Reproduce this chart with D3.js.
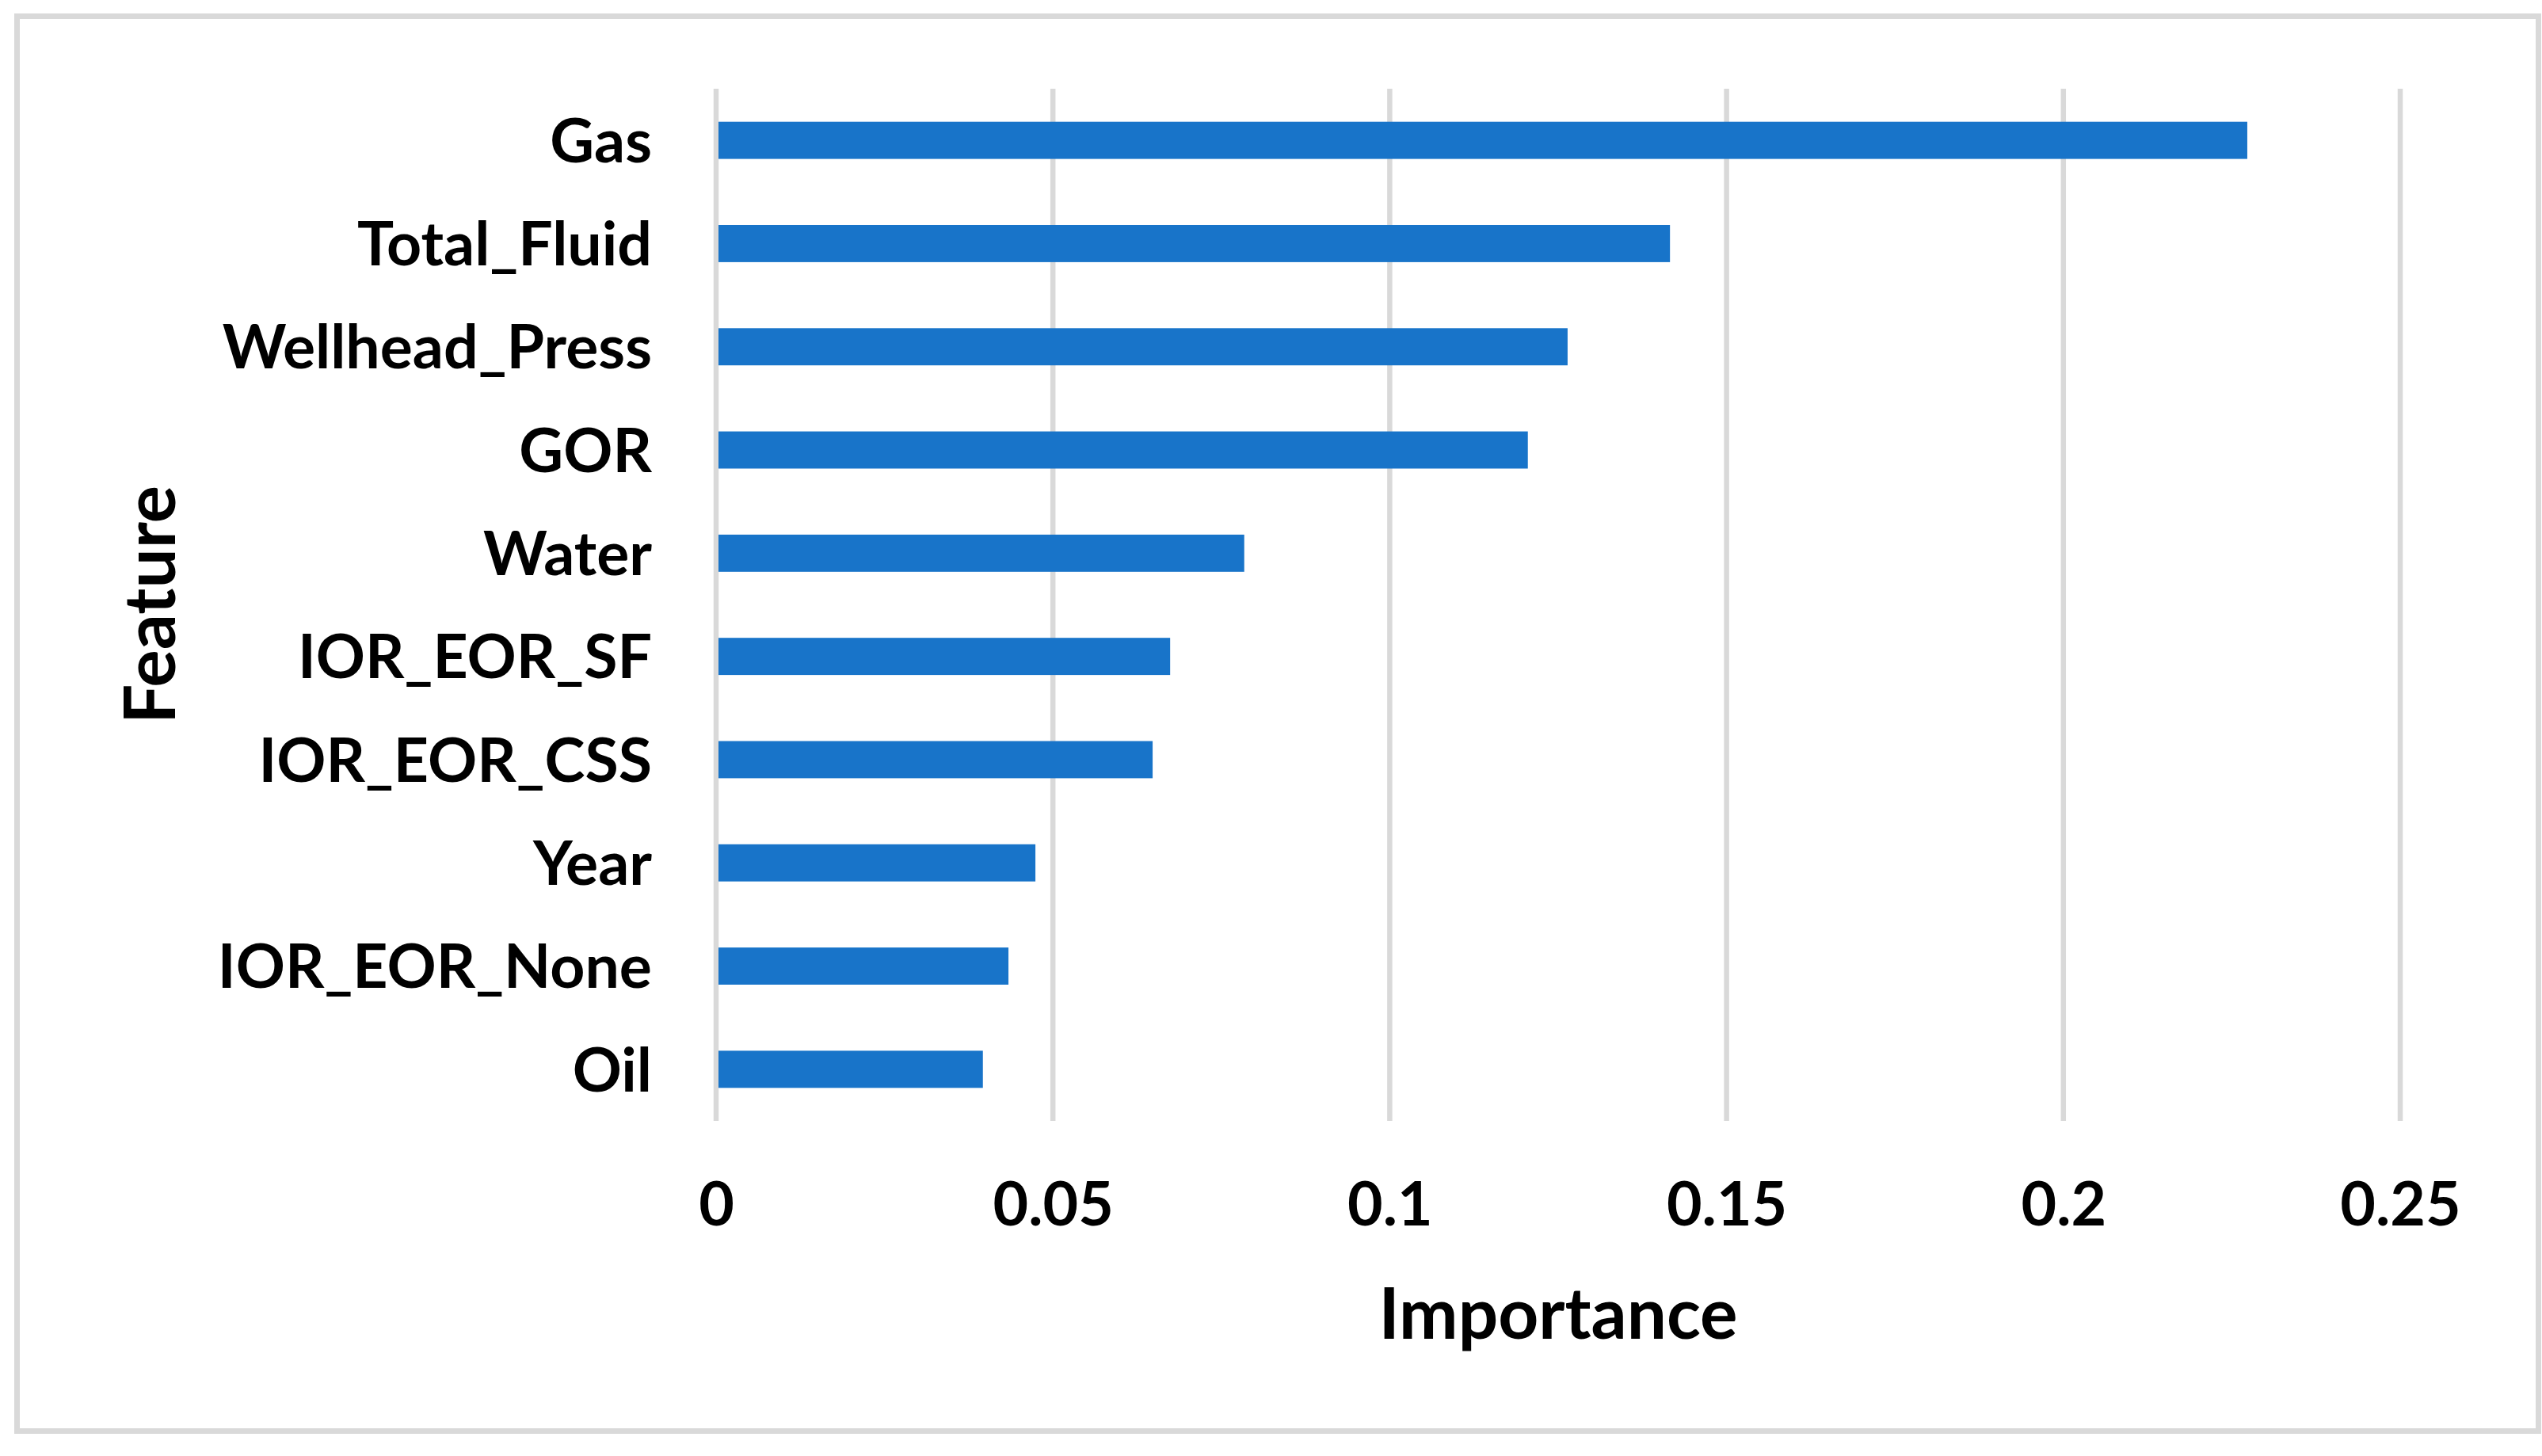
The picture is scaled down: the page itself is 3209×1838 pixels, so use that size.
<!DOCTYPE html>
<html>
<head>
<meta charset="utf-8">
<script src="https://cdn.jsdelivr.net/npm/d3@7"></script>
<style>
  body { margin: 0; background: #fff; }
  text { font-family: Lato, "Open Sans", sans-serif; font-weight: bold; fill: #000; }
</style>
</head>
<body>
<div class="chart"></div>
<script>
// data
const features = ["Gas", "Total_Fluid", "Wellhead_Press", "GOR", "Water",
                  "IOR_EOR_SF", "IOR_EOR_CSS", "Year", "IOR_EOR_None", "Oil"]
const importance = [0.2273, 0.1416, 0.1264, 0.1205, 0.0784,
                    0.0674, 0.0648, 0.0474, 0.0434, 0.0396]
const tickValues = [0, 0.05, 0.1, 0.15, 0.2, 0.25]
const tickLabels = ["0", "0.05", "0.1", "0.15", "0.2", "0.25"]

const width = 3209
const height = 1838
const plot = { left: 904, right: 3030, top: 112, bottom: 1415 }

const data = features.map((f, i) => ({ name: f, value: importance[i] }))

let svg = d3.select(".chart")
    .append("svg")
    .attr("width", width)
    .attr("height", height)

// outer frame
svg.append("rect")
    .attr("x", 21.5)
    .attr("y", 20.5)
    .attr("width", 3183)
    .attr("height", 1786)
    .attr("fill", "none")
    .attr("stroke", "#d9d9d9")
    .attr("stroke-width", 7)

const x = d3.scaleLinear()
    .domain([0, 0.25])
    .range([plot.left, plot.right])

const y = d3.scaleBand()
    .domain(features)
    .range([plot.top, plot.bottom])
    .paddingInner(0.64)
    .paddingOuter(0.32)

// vertical grid lines
svg.append("g")
    .selectAll("line")
    .data(tickValues)
    .enter()
    .append("line")
    .attr("x1", d => x(d))
    .attr("x2", d => x(d))
    .attr("y1", plot.top)
    .attr("y2", plot.bottom)
    .attr("stroke", "#d9d9d9")
    .attr("stroke-width", 6.5)

// bars
svg.append("g")
    .selectAll("rect")
    .data(data)
    .enter()
    .append("rect")
    .attr("x", x(0) + 3)
    .attr("y", d => y(d.name))
    .attr("width", d => x(d.value) - x(0) - 3)
    .attr("height", y.bandwidth())
    .attr("fill", "#1874c9")

// x axis labels
let xAxis = svg.append("g")
    .attr("transform", `translate(0,${plot.bottom})`)
    .call(d3.axisBottom(x)
        .tickValues(tickValues)
        .tickFormat((d, i) => tickLabels[i])
        .tickSize(0))
xAxis.select(".domain").remove()
xAxis.selectAll("text")
    .attr("y", 132)
    .attr("dy", 0)
    .style("font-size", "77px")
    .style("font-family", "Lato, 'Open Sans', sans-serif")
    .style("font-weight", "bold")
    .attr("fill", "#000")

// y axis labels
let yAxis = svg.append("g")
    .attr("transform", `translate(${plot.left},0)`)
    .call(d3.axisLeft(y).tickSize(0).tickPadding(81))
yAxis.select(".domain").remove()
yAxis.selectAll("text")
    .attr("dy", "0.36em")
    .style("font-size", "77px")
    .style("font-family", "Lato, 'Open Sans', sans-serif")
    .style("font-weight", "bold")
    .attr("fill", "#000")

// axis titles
svg.append("text")
    .attr("x", (plot.left + plot.right) / 2)
    .attr("y", 1690)
    .attr("text-anchor", "middle")
    .style("font-size", "89px")
    .text("Importance")

svg.append("text")
    .attr("transform", `translate(221,${(plot.top + plot.bottom) / 2}) rotate(-90)`)
    .attr("text-anchor", "middle")
    .style("font-size", "89px")
    .text("Feature")
</script>
</body>
</html>
